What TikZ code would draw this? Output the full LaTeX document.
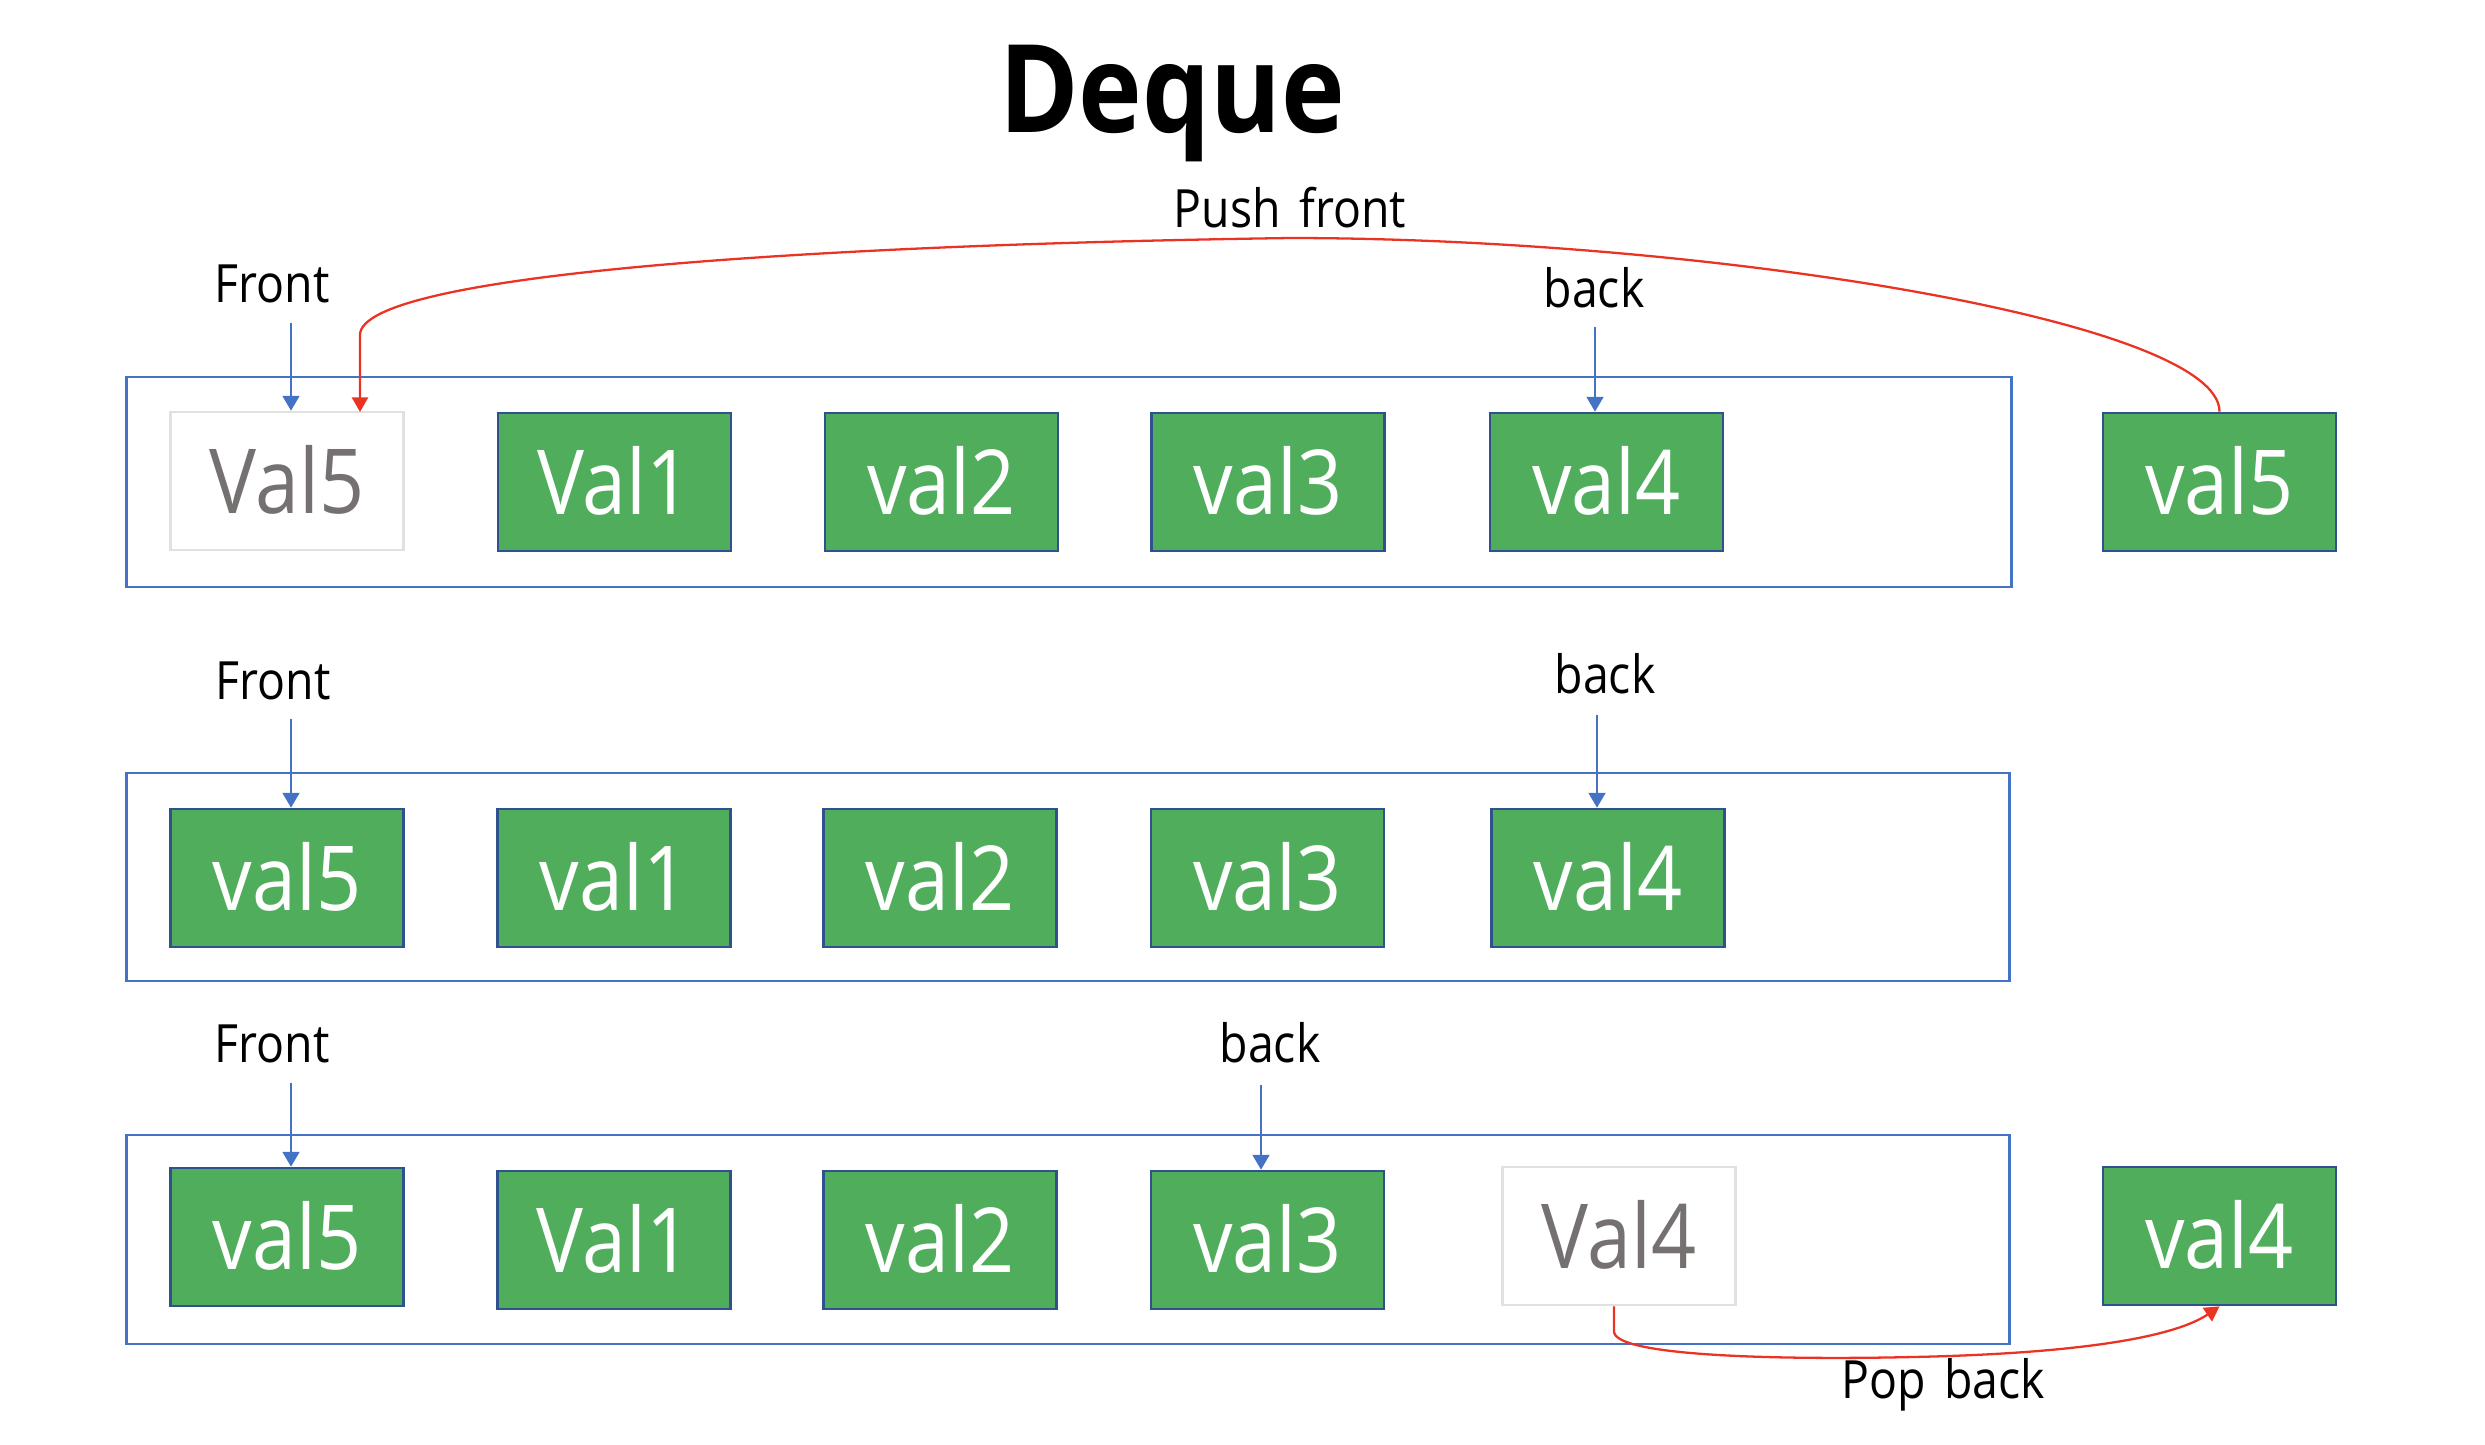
\documentclass[tikz,border=0pt]{standalone}
\usepackage{fontspec}
\setmainfont{Open Sans}[FakeStretch=0.88]
\usetikzlibrary{arrows.meta,calc}
\definecolor{boxgreen}{RGB}{80,173,91}
\definecolor{boxborder}{RGB}{47,82,143}
\definecolor{outerblue}{RGB}{68,114,196}
\definecolor{ghostline}{RGB}{226,225,225}
\definecolor{ghosttext}{RGB}{118,113,113}
\definecolor{redline}{RGB}{235,51,36}
\begin{document}
\begin{tikzpicture}[x=0.01cm,y=-0.01cm,
  valbox/.style={draw=boxborder, line width=0.75pt, fill=boxgreen, text=white,
    minimum width=2.33cm, minimum height=1.38cm, inner sep=0pt,
    font=\fontsize{25.5}{30}\selectfont, text height=18.2pt, text depth=0pt},
  ghostbox/.style={valbox, draw=ghostline, fill=white, text=ghosttext},
  outerbox/.style={draw=outerblue, line width=0.7pt, inner sep=0pt},
  lbl/.style={font=\fontsize{15}{18}\selectfont, anchor=base, inner sep=0pt},
  barrow/.style={draw=outerblue, line width=0.55pt, -{Triangle[length=4.2pt,width=4.8pt]}},
  rarrow/.style={draw=redline, line width=0.65pt, -{Triangle[length=4.2pt,width=4.6pt]}}]
\useasboundingbox (0,0) rectangle (2485,1444);

% title and operation labels
\node[lbl, font=\fontsize{34.8}{40}\selectfont\bfseries] (title) at (1172,132) {Deque};
\node[lbl] (push) at (1290,227) {Push\hspace{0.12em} front};
\node[lbl] (pop) at (1943,1398) {Pop\hspace{0.12em} back};

% outer containers
\node[outerbox, minimum width=18.84cm, minimum height=2.10cm] (q1) at (1069,482) {};
\node[outerbox, minimum width=18.82cm, minimum height=2.08cm] (q2) at (1068,877) {};
\node[outerbox, minimum width=18.82cm, minimum height=2.09cm] (q3) at (1068,1239.5) {};

% row 1
\node[ghostbox] (g5) at (287,481) {Val5};
\node[valbox] (a1) at (614.5,482) {Val1};
\node[valbox] (a2) at (941.5,482) {val2};
\node[valbox] (a3) at (1268,482) {val3};
\node[valbox] (a4) at (1606.5,482) {val4};
\node[valbox] (a5) at (2219.5,482) {val5};
\node[lbl] (front1) at (272,302) {Front};
\node[lbl] (back1) at (1594,307) {back};

% row 2
\node[valbox] (b5) at (287,878) {val5};
\node[valbox] (b1) at (614,878) {val1};
\node[valbox] (b2) at (940,878) {val2};
\node[valbox] (b3) at (1267.5,878) {val3};
\node[valbox] (b4) at (1608,878) {val4};
\node[lbl] (front2) at (273,699) {Front};
\node[lbl] (back2) at (1605,693) {back};

% row 3
\node[valbox] (c5) at (287,1237) {val5};
\node[valbox] (c1) at (614,1240) {Val1};
\node[valbox] (c2) at (940,1240) {val2};
\node[valbox] (c3) at (1267.5,1240) {val3};
\node[ghostbox] (g4) at (1619,1236) {Val4};
\node[valbox] (c4) at (2219.5,1236) {val4};
\node[lbl] (front3) at (272,1062) {Front};
\node[lbl] (back3) at (1270,1062) {back};

% pointer arrows
\coordinate (f1t) at (291,323);
\coordinate (k1t) at (1595,327);
\coordinate (f2t) at (291,719);
\coordinate (k2t) at (1597,715);
\coordinate (f3t) at (291,1083);
\coordinate (k3t) at (1261,1085);
\draw[barrow] (f1t) -- (f1t |- g5.north);
\draw[barrow] (k1t) -- (k1t |- a4.north);
\draw[barrow] (f2t) -- (f2t |- b5.north);
\draw[barrow] (k2t) -- (k2t |- b4.north);
\draw[barrow] (f3t) -- (f3t |- c5.north);
\draw[barrow] (k3t) -- (k3t |- c3.north);

% push front
\coordinate (pfend) at (360,412);
\draw[rarrow] (a5.north) .. controls (2219.5,320) and (1700,238) .. (1290,238)
  .. controls (800,245) and (360,275) .. (360,335) -- (pfend);

% pop back
\draw[rarrow] ($(g4.south)+(-5,0)$) -- ++(0,25)
  .. controls +(0,25) and (1780,1360) .. (1912,1357)
  .. controls (2060,1354) and (2170,1340) .. (c4.south);
\end{tikzpicture}
\end{document}
